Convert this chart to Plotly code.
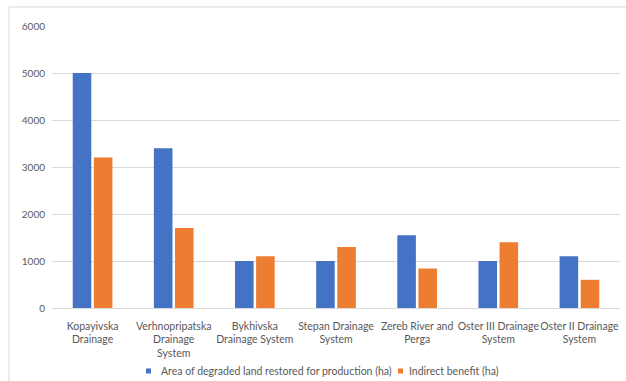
import plotly.graph_objects as go

categories = [
    "Kopayivska<br>Drainage",
    "Verhnopripatska<br>Drainage<br>System",
    "Bykhivska<br>Drainage System",
    "Stepan Drainage<br>System",
    "Zereb River and<br>Perga",
    "Oster III Drainage<br>System",
    "Oster II Drainage<br>System",
]
restored_area = [5000, 3400, 1000, 1000, 1550, 1000, 1100]
indirect_benefit = [3200, 1700, 1100, 1300, 840, 1400, 600]
y_ticks = [0, 1000, 2000, 3000, 4000, 5000, 6000]
series_names = ["Area of degraded land restored for production (ha)",
                "Indirect benefit (ha)"]

BLUE = "#4472C4"
ORANGE = "#ED7D31"
GRID = "#D9D9D9"
TEXT = "#595959"
FONT = "Lato"

fig = go.Figure()
for name, values, color in zip(series_names,
                               [restored_area, indirect_benefit],
                               [BLUE, ORANGE]):
    fig.add_trace(go.Bar(
        x=categories, y=values, name=name, showlegend=False,
        marker=dict(color=color, line=dict(width=0)),
    ))

# legend row below the axis: square key + label for each series
legend_y = -0.2234
key_half_h = 0.0089
legend_items = [(0.1655, 0.1743, 0.1901), (0.6092, 0.6180, 0.6268)]
for name, color, (kx0, kx1, tx) in zip(series_names, [BLUE, ORANGE],
                                       legend_items):
    fig.add_shape(type="rect", xref="paper", yref="paper",
                  x0=kx0, x1=kx1, y0=legend_y - key_half_h,
                  y1=legend_y + key_half_h,
                  fillcolor=color, line=dict(width=0))
    fig.add_annotation(xref="paper", yref="paper", x=tx, y=legend_y,
                       xanchor="left", yanchor="middle", showarrow=False,
                       text=name, borderpad=0,
                       font=dict(family=FONT, size=10.5, color=TEXT))

# thin chart-area frame (top and left edges)
fig.add_shape(type="line", xref="paper", yref="paper",
              x0=-0.0757, x1=1.02, y0=1.0674, y1=1.0674,
              line=dict(color=GRID, width=1))
fig.add_shape(type="line", xref="paper", yref="paper",
              x0=-0.0757, x1=-0.0757, y0=-0.3, y1=1.0674,
              line=dict(color=GRID, width=1))

fig.update_layout(
    width=626, height=381,
    margin=dict(l=52, r=6, t=26, b=73, autoexpand=False),
    paper_bgcolor="white", plot_bgcolor="white",
    barmode="group", bargap=0.48, bargroupgap=0.12,
    font=dict(family=FONT, size=10, color=TEXT),
    showlegend=False,
)
fig.update_xaxes(showgrid=False, showline=False, tickangle=0,
                 ticks="outside", ticklen=8, tickcolor="rgba(0,0,0,0)",
                 automargin=False,
                 tickfont=dict(family=FONT, size=10.5, color=TEXT))
fig.update_yaxes(range=[0, 6000], tickvals=y_ticks, showgrid=True,
                 gridcolor=GRID, gridwidth=1, zeroline=True,
                 zerolinecolor=GRID, zerolinewidth=1, showline=False,
                 ticks="", ticklabelstandoff=6, automargin=False,
                 tickfont=dict(family=FONT, size=10, color=TEXT))

fig.write_html("out.html")
